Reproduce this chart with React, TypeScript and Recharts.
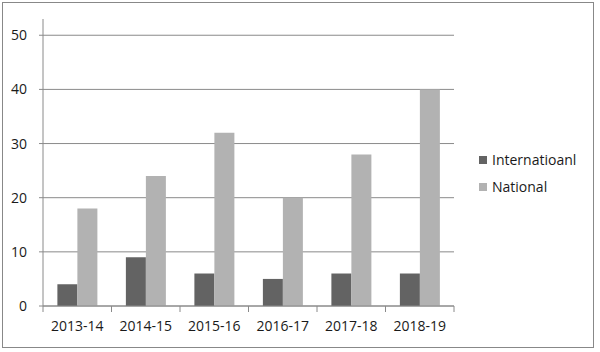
import React from 'react';
import { BarChart, Bar, XAxis, YAxis, CartesianGrid } from 'recharts';

const years = ['2013-14', '2014-15', '2015-16', '2016-17', '2017-18', '2018-19'];
const international = [4, 9, 6, 5, 6, 6];
const national = [18, 24, 32, 20, 28, 40];
const yTicks = [0, 10, 20, 30, 40, 50];

const series = [
    { key: 'international', name: 'Internatioanl', color: '#636363' },
    { key: 'national', name: 'National', color: '#b2b2b2' },
];

const data = years.map((year, i) => ({
    year,
    international: international[i],
    national: national[i],
}));

const FONT = '"Open Sans", sans-serif';
const GRID = '#8a8a8a';
const BAND = (454 - 43) / years.length;

const XTick = (props: any) => {
    const { x, y, payload, index } = props;
    const half = BAND / 2;
    return (
        <g>
            <line x1={x - half} y1={y} x2={x - half} y2={y + 6} stroke={GRID} />
            {index === years.length - 1 && <line x1={x + half} y1={y} x2={x + half} y2={y + 6} stroke={GRID} />}
            <text x={x} y={y + 25} textAnchor="middle" fontSize={14} fontFamily={FONT} fill="#1a1a1a">
                {payload.value}
            </text>
        </g>
    );
};

// legend sits to the right of the plot, like the Excel original
const LegendBox = () => (
    <div style={{ position: 'absolute', left: 479, top: 146, fontFamily: FONT, fontSize: 14, color: '#1a1a1a' }}>
        {series.map((item) => (
            <div key={item.key} style={{ display: 'flex', alignItems: 'center', height: 27 }}>
                <span style={{ width: 8, height: 8, background: item.color, marginRight: 5 }} />
                <span>{item.name}</span>
            </div>
        ))}
    </div>
);

const App = () => (
    <div style={{ position: 'absolute', left: 0, top: 0, width: 600, height: 352, background: '#fff' }}>
        <div style={{ position: 'absolute', left: 2, top: 2, width: 590, height: 344, border: '1px solid #888' }} />
        <div style={{ position: 'absolute', left: 0, top: 0 }}>
            <BarChart
                width={600}
                height={352}
                data={data}
                margin={{ top: 19, right: 146, bottom: 16, left: 0 }}
                barCategoryGap="21%"
                barGap={0}
            >
                <CartesianGrid vertical={false} horizontalValues={yTicks} stroke={GRID} />
                <XAxis
                    dataKey="year"
                    height={30}
                    tickLine={false}
                    tickSize={0}
                    tickMargin={0}
                    axisLine={{ stroke: GRID }}
                    tick={<XTick />}
                    interval={0}
                />
                <YAxis
                    width={43}
                    domain={[0, 53]}
                    ticks={yTicks}
                    tickSize={4}
                    tickMargin={12}
                    axisLine={{ stroke: GRID }}
                    tickLine={{ stroke: GRID }}
                    tick={{ fontSize: 14, fontFamily: FONT, fill: '#1a1a1a' }}
                />
                {series.map((s) => (
                    <Bar key={s.key} dataKey={s.key} name={s.name} fill={s.color} isAnimationActive={false} />
                ))}
            </BarChart>
        </div>
        <LegendBox />
    </div>
);

export default App;
